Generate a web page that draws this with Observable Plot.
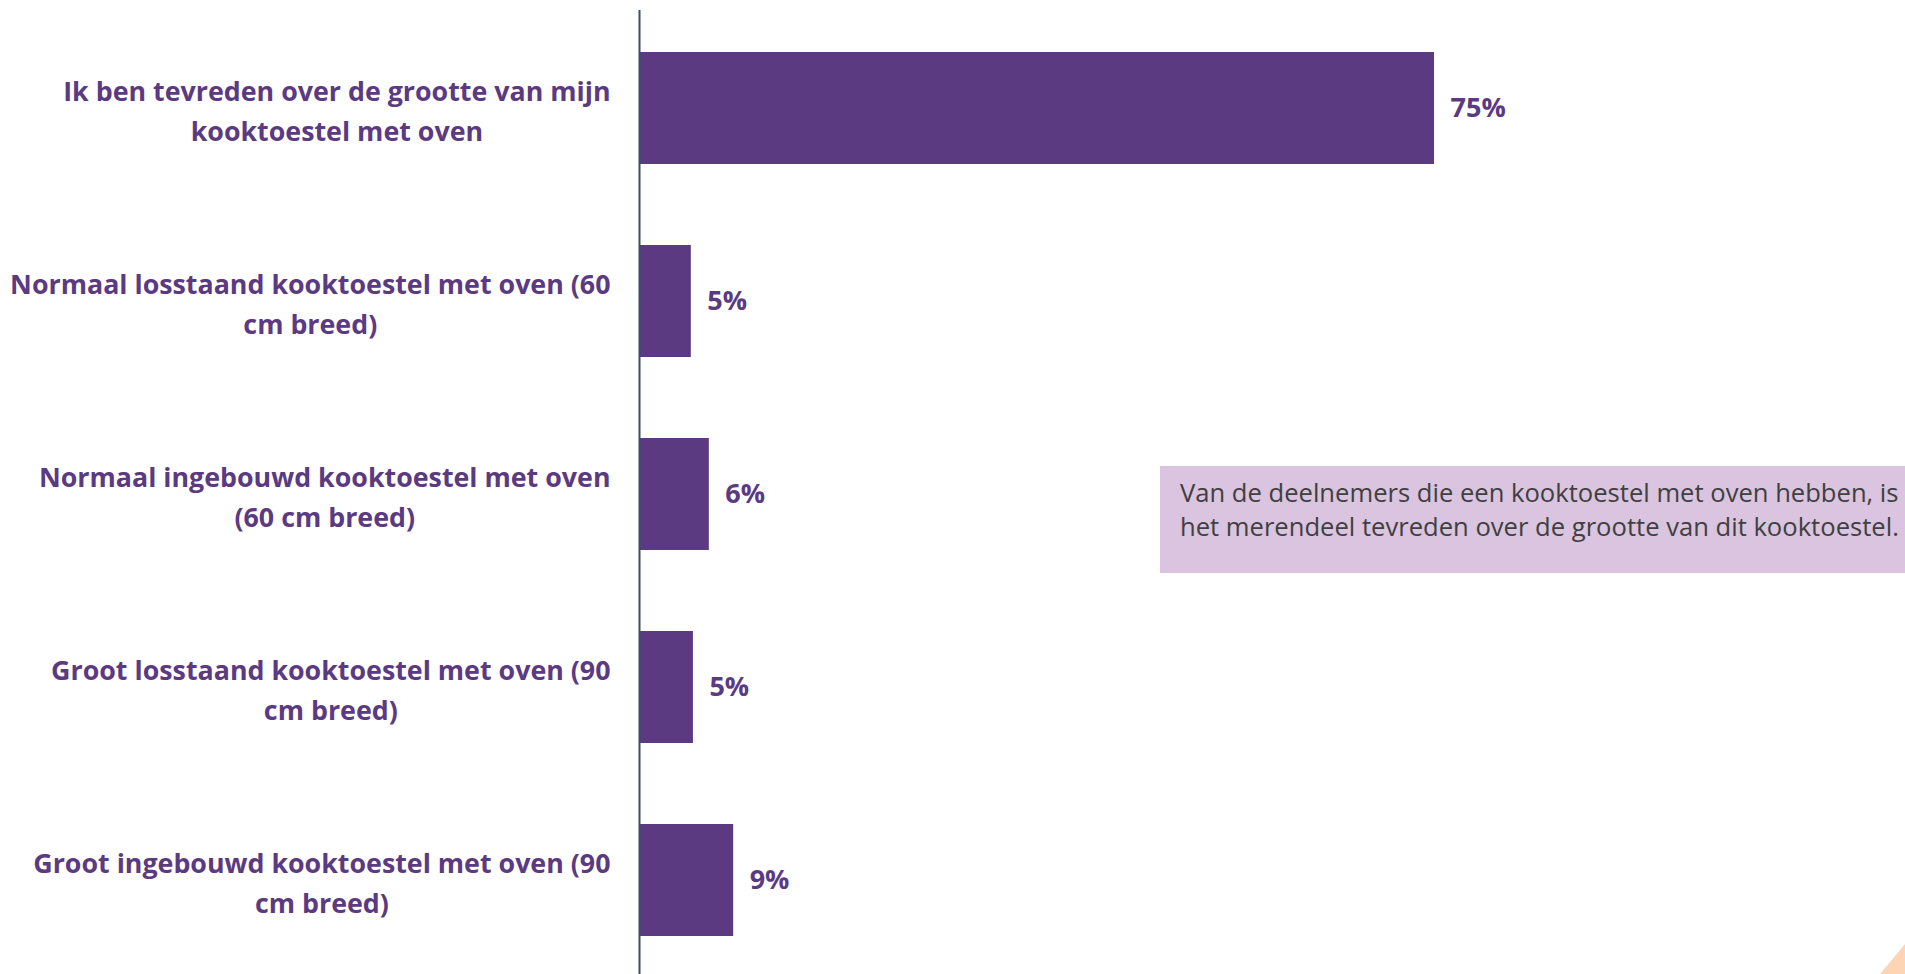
<!DOCTYPE html>
<html>
<head>
<meta charset="utf-8">
<script src="https://cdn.jsdelivr.net/npm/d3@7"></script>
<script src="https://cdn.jsdelivr.net/npm/@observablehq/plot@0.6"></script>
<style>
  html, body { margin: 0; padding: 0; background: #fff; overflow: hidden; }
  #wrap { position: relative; width: 1905px; height: 974px; overflow: hidden; }
  #chart { position: absolute; left: 0; top: 0; }
  #note {
    position: absolute; left: 1160px; top: 466px; width: 745px; height: 107px;
    background: #dac4df; box-sizing: border-box; padding: 10px 0 0 20px;
    font-family: "Open Sans", sans-serif; font-size: 25.6px; line-height: 34px; color: #404040;
    white-space: nowrap;
  }
  #corner {
    position: absolute; left: 1880px; top: 944px; width: 25px; height: 30px;
    background: #fdd5b5; clip-path: polygon(100% 0, 100% 100%, 0 100%);
  }
</style>
</head>
<body>
<div id="wrap">
  <div id="chart"></div>
  <div id="note">Van de deelnemers die een kooktoestel met oven hebben, is<br>het merendeel tevreden over de grootte van dit kooktoestel.</div>
  <div id="corner"></div>
</div>
<script>
// ---- data ----
const categories = [
  "Ik ben tevreden over de grootte van mijn\nkooktoestel met oven",
  "Normaal losstaand kooktoestel met oven (60\ncm breed)",
  "Normaal ingebouwd kooktoestel met oven\n(60 cm breed)",
  "Groot losstaand kooktoestel met oven (90\ncm breed)",
  "Groot ingebouwd kooktoestel met oven (90\ncm breed)"
];
const values = [75, 4.8, 6.5, 5.0, 8.8];
const valueLabels = ["75%", "5%", "6%", "5%", "9%"];

const purple = "#5b3a82";
const font = "Open Sans";
const labelSize = 26.8;
const data = categories.map((c, i) => ({cat: c, value: values[i], label: valueLabels[i]}));

// ---- label geometry (right-aligned block, centred lines) ----
const ctx = document.createElement("canvas").getContext("2d");
ctx.font = `bold ${labelSize}px "${font}"`;
const blockRight = 610;
const marginLeft = 640;

const labelMarks = data.map(d => {
  const w = Math.max(...d.cat.split("\n").map(s => ctx.measureText(s).width));
  return Plot.text([d], {
    y: "cat", text: "cat", frameAnchor: "left", textAnchor: "middle",
    dx: (blockRight - w / 2) - marginLeft,
    lineWidth: 1000, lineHeight: 40 / labelSize,
    fill: purple, fontWeight: "bold", fontSize: labelSize, fontFamily: font
  });
});

const chart = Plot.plot({
  width: 1905,
  height: 980,
  marginLeft: marginLeft,
  marginRight: 206.3,
  marginTop: 10,
  marginBottom: 2,
  x: {domain: [0, 100], axis: null},
  y: {domain: categories, axis: null, paddingInner: 0.42, paddingOuter: 0.21},
  style: {fontFamily: font, background: "transparent"},
  marks: [
    Plot.barX(data, {x: "value", y: "cat", fill: purple}),
    Plot.text(data, {
      x: "value", y: "cat", text: "label", textAnchor: "start", dx: 16,
      fill: purple, fontWeight: "bold", fontSize: 27, fontFamily: font
    }),
    ...labelMarks,
    Plot.ruleX([0], {stroke: "#3a4f65", strokeWidth: 2, dx: -1})
  ]
});
document.getElementById("chart").appendChild(chart);
</script>
</body>
</html>
